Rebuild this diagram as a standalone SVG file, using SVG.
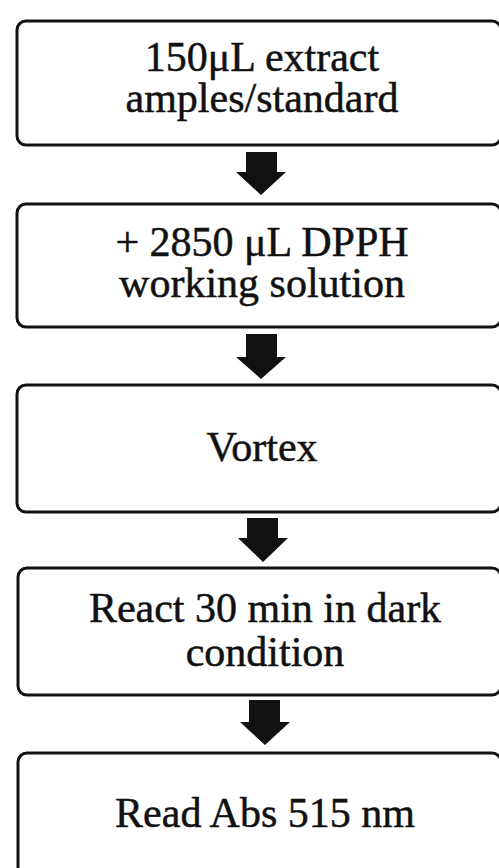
<svg xmlns="http://www.w3.org/2000/svg" width="499" height="868" viewBox="0 0 499 868">
<style>
.box{fill:none;stroke:#111;stroke-width:3}
.t{font-family:"Liberation Serif","Times New Roman",serif;font-size:42px;fill:#111;stroke:#111;stroke-width:0.5;text-anchor:middle}
.arr{fill:#111}
</style>
<rect width="499" height="868" fill="#ffffff"/>
<g id="n1"><rect class="box" x="17" y="21" width="484" height="124" rx="9"/>
<text class="t" x="262" y="71">150μL extract</text>
<text class="t" x="262" y="112">amples/standard</text></g>
<g id="n2"><rect class="box" x="17" y="204" width="484" height="123" rx="9"/>
<text class="t" x="262" y="256">+ 2850 μL DPPH</text>
<text class="t" x="262" y="297">working solution</text></g>
<g id="n3"><rect class="box" x="17" y="385" width="484" height="127" rx="9"/>
<text class="t" x="262" y="461">Vortex</text></g>
<g id="n4"><rect class="box" x="18" y="568" width="483" height="127" rx="9"/>
<text class="t" x="265" y="622">React 30 min in dark</text>
<text class="t" x="265" y="666">condition</text></g>
<g id="n5"><rect class="box" x="18" y="753" width="483" height="140" rx="9"/>
<text class="t" x="265" y="827">Read Abs 515 nm</text></g>
<g id="connectors">
<path class="arr" d="M246 152 H277 V172 H286 L261 195 L236 172 H246 Z"/>
<path class="arr" d="M246 334 H277 V357 H286 L261 379 L236 357 H246 Z"/>
<path class="arr" d="M247 518 H278 V538 H288 L263 562 L238 538 H247 Z"/>
<path class="arr" d="M249 700 H280 V722 H290 L265 745 L240 722 H249 Z"/>
</g>
</svg>
